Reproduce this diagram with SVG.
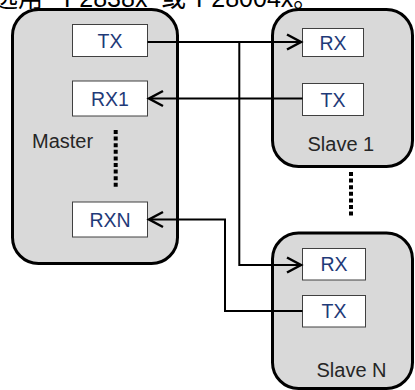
<svg xmlns="http://www.w3.org/2000/svg" width="415" height="390" viewBox="0 0 415 390">
<defs>
<style>
.dev{fill:#d9d9d9;stroke:#000;stroke-width:3}
.port{fill:#fff;stroke:#404040;stroke-width:1}
.pl{font-family:"Liberation Sans",Arial,sans-serif;font-size:19.5px;fill:#1f3a78;text-anchor:middle}
.nl{font-family:"Liberation Sans",Arial,sans-serif;font-size:20px;fill:#262626}
.dots{stroke:#000;stroke-width:4;stroke-dasharray:4 2.6;fill:none}
.wire{fill:none;stroke:#000;stroke-width:2}
</style>
<marker id="arr" markerUnits="userSpaceOnUse" markerWidth="20" markerHeight="20" viewBox="-16 -10 18 20" refX="0" refY="0" orient="auto">
<path d="M-14,-7.5 L0,0 L-14,7.5" fill="none" stroke="#000" stroke-width="2.5"/>
</marker>
</defs>
<rect width="415" height="390" fill="#fff"/>
<text y="7" font-family="'Liberation Sans','Noto Sans CJK SC',sans-serif" font-size="25" fill="#000"><tspan x="-7">选用</tspan><tspan x="64">F2838x</tspan><tspan x="161">或</tspan><tspan x="196">F28004x。</tspan></text>
<g id="master">
<rect class="dev" x="12.5" y="9.5" width="165" height="254" rx="26"/>
<rect class="port" x="72.5" y="24.5" width="75" height="32"/>
<text class="pl" x="110" y="47.5">TX</text>
<rect class="port" x="72.5" y="81" width="75" height="35"/>
<text class="pl" x="110" y="105.5">RX1</text>
<rect class="port" x="72.5" y="202" width="75" height="35"/>
<text class="pl" x="110" y="226.5">RXN</text>
<text class="nl" x="32" y="148">Master</text>
<line class="dots" x1="115.7" y1="130" x2="115.7" y2="189"/>
</g>
<g id="slave1">
<rect class="dev" x="272.5" y="9.5" width="140" height="157" rx="26"/>
<rect class="port" x="302.5" y="28.5" width="61" height="28"/>
<text class="pl" x="333" y="49.5">RX</text>
<rect class="port" x="302.5" y="83.5" width="61" height="32"/>
<text class="pl" x="333" y="106.5">TX</text>
<text class="nl" x="307.5" y="151">Slave 1</text>
</g>
<line class="dots" x1="351" y1="172" x2="351" y2="218"/>
<g id="slaveN">
<rect class="dev" x="272.5" y="233" width="140" height="155.5" rx="26"/>
<rect class="port" x="302.5" y="248.5" width="63" height="31.5"/>
<text class="pl" x="334" y="271">RX</text>
<rect class="port" x="302.5" y="295.5" width="63" height="31.5"/>
<text class="pl" x="334" y="318">TX</text>
<text class="nl" x="316.5" y="377">Slave N</text>
</g>
<g id="connectors">
<path class="wire" d="M147.5,42 H301" marker-end="url(#arr)"/>
<path class="wire" d="M239.3,42 V265 H301" marker-end="url(#arr)"/>
<path class="wire" d="M302.5,98.5 H149" marker-end="url(#arr)"/>
<path class="wire" d="M302.5,311 H225 V219.5 H149" marker-end="url(#arr)"/>
</g>
</svg>
